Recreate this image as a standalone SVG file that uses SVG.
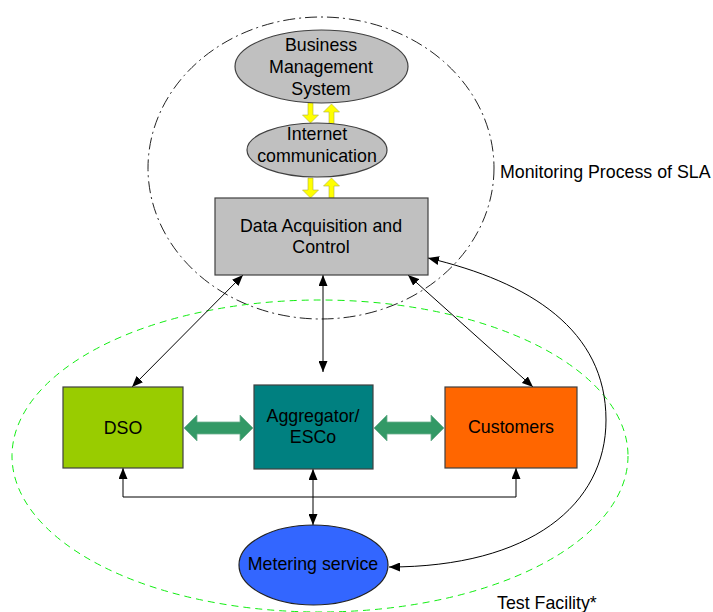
<svg xmlns="http://www.w3.org/2000/svg" width="713" height="612" viewBox="0 0 713 612">
  <style>
    text { font-family: "Liberation Sans", Arial, sans-serif; font-size: 17.8px; fill: #000; text-anchor: middle; }
    .lbl { text-anchor: start; }
    .box { stroke: #404040; stroke-width: 1.2; }
    .conn { fill: none; stroke: #000; stroke-width: 1; marker-start: url(#ah); marker-end: url(#ah); }
    .yel { fill: #ffff00; stroke: #b0b040; stroke-width: 0.6; }
    .grn { fill: #339966; stroke: #6fb08f; stroke-width: 0.8; }
  </style>
  <defs>
    <marker id="ah" viewBox="0 0 11 9" refX="11" refY="4.5" markerWidth="11" markerHeight="9" markerUnits="userSpaceOnUse" orient="auto-start-reverse">
      <path d="M0,0 L11,4.5 L0,9 Z" fill="#000"/>
    </marker>
    <!-- vertical yellow arrow pointing down, tip at (0,0) -->
    <path id="yDown" d="M-2.5,-20 L2.5,-20 L2.5,-8 L8,-8 L0,0 L-8,-8 L-2.5,-8 Z"/>
  </defs>

  <!-- boundary ellipses -->
  <g id="sla-boundary">
    <ellipse cx="321" cy="168" rx="173" ry="151" fill="none" stroke="#222" stroke-width="1" stroke-dasharray="12,4,2,4"/>
    <text class="lbl" x="500" y="178">Monitoring Process of SLA</text>
  </g>
  <g id="test-facility">
    <ellipse cx="320" cy="456" rx="308" ry="156" fill="none" stroke="#11ee11" stroke-width="1" stroke-dasharray="7,5"/>
    <text class="lbl" x="497" y="609">Test Facility*</text>
  </g>

  <!-- connectors -->
  <g id="connectors">
    <path class="conn" d="M243,275 L132,387"/>
    <path class="conn" d="M323,275 L323,372"/>
    <path class="conn" d="M408,275 L533,387"/>
    <path class="conn" d="M313,469 L313,525"/>
    <path fill="none" stroke="#000" stroke-width="1" marker-start="url(#ah)" marker-end="url(#ah)" d="M123,468 L123,497 L516,497 L516,468"/>
    <path class="conn" d="M389,567 C530,567 606,505 606,420 C606,330 530,282 428,258"/>
    <!-- yellow data links -->
    <use href="#yDown" class="yel" transform="translate(310.5,123)"/>
    <use href="#yDown" class="yel" transform="translate(331.5,104) rotate(180)"/>
    <use href="#yDown" class="yel" transform="translate(310.5,198)"/>
    <use href="#yDown" class="yel" transform="translate(331.5,178) rotate(180)"/>
    <!-- green exchange arrows -->
    <path class="grn" d="M184,428 L197,415 L197,422 L240,422 L240,415 L253,428 L240,441 L240,434 L197,434 L197,441 Z"/>
    <path class="grn" d="M374,428 L387,415 L387,422 L431,422 L431,415 L444,428 L431,441 L431,434 L387,434 L387,441 Z"/>
  </g>

  <g id="bms">
    <ellipse cx="321.5" cy="66.5" rx="86.5" ry="36.5" fill="#c0c0c0" stroke="#404040" stroke-width="1.2"/>
    <text x="321" y="51">Business</text>
    <text x="321" y="73">Management</text>
    <text x="321" y="95">System</text>
  </g>

  <g id="internet">
    <ellipse cx="317" cy="150" rx="70" ry="27" fill="#c0c0c0" stroke="#404040" stroke-width="1.2"/>
    <text x="317" y="140">Internet</text>
    <text x="317" y="162">communication</text>
  </g>

  <g id="dac">
    <rect class="box" x="215" y="198" width="213" height="77" fill="#c0c0c0"/>
    <text x="321" y="232">Data Acquisition and</text>
    <text x="321" y="253">Control</text>
  </g>

  <g id="dso">
    <rect class="box" x="63" y="387" width="120" height="81" fill="#99cc00"/>
    <text x="123" y="434">DSO</text>
  </g>

  <g id="aggregator">
    <rect class="box" x="254" y="385" width="119" height="84" fill="#008080"/>
    <text x="313" y="422">Aggregator/</text>
    <text x="313" y="443">ESCo</text>
  </g>

  <g id="customers">
    <rect class="box" x="445" y="387" width="132" height="81" fill="#ff6600"/>
    <text x="511" y="433">Customers</text>
  </g>

  <g id="metering">
    <ellipse cx="313.5" cy="565" rx="74.5" ry="40" fill="#3366ff" stroke="#222" stroke-width="1.2"/>
    <text x="313" y="570">Metering service</text>
  </g>
</svg>
